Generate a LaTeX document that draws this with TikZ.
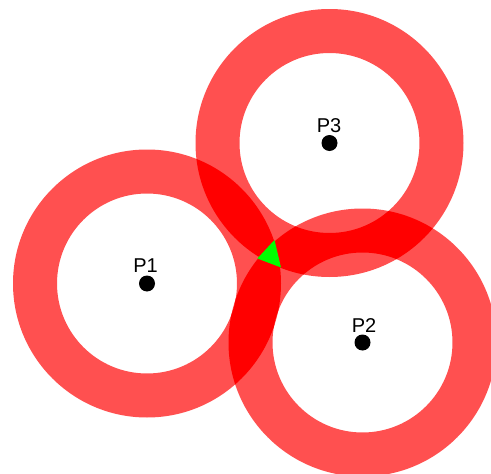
\documentclass[tikz,border=0pt]{standalone}
\usepackage{fontspec}
\setmainfont{Liberation Sans}
\definecolor{ringred}{RGB}{255,80,80}
\begin{document}
\begin{tikzpicture}[x=1pt,y=-1pt,
  ring/.style={fill=ringred,even odd rule},
  overlap/.style={fill=red,even odd rule},
  dot/.style={circle,fill=black,inner sep=0pt,minimum size=16pt},
  lbl/.style={anchor=base,font=\fontsize{20}{24}\selectfont,inner sep=0pt}]
\useasboundingbox (0,0) rectangle (491,474);
\clip (0,0) rectangle (491,474);
\fill[white] (0,0) rectangle (491,474);
\coordinate (c1) at (147,283.5);
\coordinate (c2) at (362.5,342.5);
\coordinate (c3) at (329.5,143);
\def\ringpath#1{(#1) circle[radius=134] (#1) circle[radius=90]}
\fill[ring] \ringpath{c1};
\fill[ring] \ringpath{c2};
\fill[ring] \ringpath{c3};
\begin{scope}[even odd rule]
  \clip \ringpath{c1};
  \fill[overlap] \ringpath{c2};
  \fill[overlap] \ringpath{c3};
\end{scope}
\begin{scope}[even odd rule]
  \clip \ringpath{c2};
  \fill[overlap] \ringpath{c3};
\end{scope}
\coordinate (t1) at (274.5,240);
\coordinate (t2) at (257.3,258.5);
\coordinate (t3) at (281,267.5);
\fill[green] (t1) -- (t2) -- (t3) -- cycle;
\node[dot] (p1) at (c1) {};
\node[dot] (p2) at (c2) {};
\node[dot] (p3) at (c3) {};
\node[lbl] (l1) at (145.5,272.5) {P1};
\node[lbl] (l2) at (364,332) {P2};
\node[lbl] (l3) at (329,132) {P3};
\end{tikzpicture}
\end{document}
